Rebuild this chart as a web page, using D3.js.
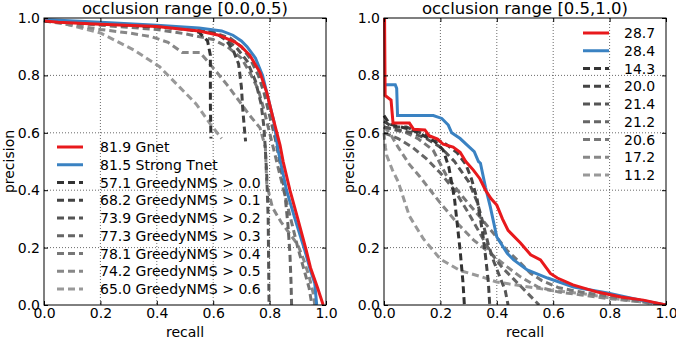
<!DOCTYPE html>
<html>
<head>
<meta charset="utf-8">
<script src="https://cdn.jsdelivr.net/npm/d3@7"></script>
<style>
body { margin: 0; background: #fff; }
</style>
</head>
<body>
<svg id="chart" width="676" height="339"></svg>
<script>
// occlusion range [0.0,0.5) : [recall, precision]
var gnetLow = [[0,0.99],[0.05,0.985],[0.2,0.978],[0.4,0.97],[0.55,0.955],[0.62,0.94],[0.677,0.916],[0.7,0.9],[0.73,0.87],[0.766,0.81],[0.79,0.74],[0.81,0.66],[0.837,0.557],[0.848,0.5],[0.872,0.4],[0.9,0.3],[0.93,0.19],[0.945,0.13],[0.97,0.06],[0.99,0]];
var tnetLow = [[0,0.995],[0.2,0.985],[0.4,0.975],[0.55,0.965],[0.63,0.955],[0.67,0.94],[0.7,0.92],[0.72,0.9],[0.75,0.86],[0.775,0.8],[0.795,0.72],[0.815,0.64],[0.83,0.54],[0.86,0.4],[0.89,0.3],[0.925,0.19],[0.945,0.12],[0.96,0.077],[0.967,0]];
var nmsLow0 = [[0,0.99],[0.2,0.98],[0.4,0.97],[0.5,0.965],[0.55,0.95],[0.58,0.92],[0.59,0.87],[0.59,0.7],[0.592,0.58]];
var nmsLow1 = [[0,0.99],[0.2,0.98],[0.4,0.97],[0.55,0.96],[0.6,0.95],[0.64,0.93],[0.67,0.89],[0.69,0.84],[0.7,0.76],[0.705,0.68],[0.712,0.6],[0.715,0.57]];
var nmsLow2 = [[0,0.99],[0.2,0.98],[0.4,0.97],[0.55,0.96],[0.62,0.94],[0.68,0.9],[0.72,0.85],[0.75,0.78],[0.77,0.7],[0.78,0.62],[0.785,0.54],[0.79,0.45],[0.795,0.3],[0.797,0.1],[0.798,0]];
var nmsLow3 = [[0,0.99],[0.2,0.98],[0.4,0.97],[0.6,0.95],[0.66,0.93],[0.7,0.9],[0.73,0.86],[0.76,0.8],[0.78,0.74],[0.8,0.66],[0.82,0.58],[0.84,0.48],[0.855,0.38],[0.865,0.28],[0.872,0.18],[0.876,0.08],[0.878,0]];
var nmsLow4 = [[0,0.99],[0.2,0.975],[0.4,0.96],[0.5,0.945],[0.6,0.925],[0.65,0.9],[0.7,0.86],[0.73,0.81],[0.76,0.75],[0.78,0.68],[0.8,0.6],[0.82,0.52],[0.84,0.44],[0.86,0.36],[0.88,0.28],[0.9,0.2],[0.92,0.13],[0.94,0.06],[0.95,0]];
var nmsLow5 = [[0,0.99],[0.1,0.975],[0.2,0.96],[0.3,0.948],[0.38,0.935],[0.44,0.915],[0.49,0.88],[0.553,0.88],[0.6,0.826],[0.65,0.766],[0.695,0.707],[0.73,0.66],[0.766,0.617],[0.785,0.55],[0.79,0.42],[0.81,0.34],[0.84,0.29],[0.87,0.25],[0.9,0.21],[0.92,0.16],[0.94,0.1],[0.955,0.04],[0.96,0]];
var nmsLow6 = [[0,0.99],[0.06,0.983],[0.2,0.948],[0.32,0.888],[0.41,0.83],[0.48,0.76],[0.54,0.7],[0.59,0.63],[0.63,0.58]];

// occlusion range [0.5,1.0)
var gnetHigh = [[0.002,1.0],[0.004,0.73],[0.025,0.714],[0.032,0.634],[0.09,0.634],[0.105,0.612],[0.145,0.61],[0.16,0.59],[0.19,0.578],[0.21,0.56],[0.245,0.55],[0.27,0.532],[0.29,0.5],[0.317,0.47],[0.34,0.44],[0.36,0.4],[0.38,0.37],[0.4,0.348],[0.42,0.3],[0.44,0.26],[0.484,0.216],[0.52,0.175],[0.555,0.157],[0.59,0.11],[0.615,0.094],[0.67,0.07],[0.757,0.045],[0.84,0.028],[0.92,0.017],[1.0,0]];
var tnetHigh = [[0.002,0.767],[0.04,0.767],[0.045,0.755],[0.048,0.66],[0.175,0.66],[0.205,0.65],[0.228,0.627],[0.24,0.6],[0.27,0.58],[0.295,0.557],[0.32,0.534],[0.335,0.5],[0.342,0.494],[0.36,0.41],[0.377,0.342],[0.4,0.237],[0.437,0.18],[0.46,0.157],[0.508,0.122],[0.58,0.094],[0.672,0.063],[0.793,0.042],[0.91,0.017],[1.0,0]];
var nmsHigh0 = [[0,0.66],[0.02,0.63],[0.06,0.62],[0.1,0.61],[0.14,0.59],[0.18,0.57],[0.21,0.54],[0.23,0.48],[0.25,0.37],[0.26,0.28],[0.27,0.19],[0.28,0.08],[0.285,0]];
var nmsHigh1 = [[0,0.64],[0.03,0.62],[0.08,0.62],[0.13,0.6],[0.18,0.58],[0.22,0.56],[0.26,0.53],[0.29,0.49],[0.31,0.44],[0.33,0.37],[0.35,0.25],[0.36,0.17],[0.37,0.08],[0.375,0]];
var nmsHigh2 = [[0,0.62],[0.05,0.61],[0.1,0.6],[0.15,0.58],[0.2,0.55],[0.25,0.5],[0.3,0.43],[0.33,0.36],[0.35,0.29],[0.37,0.21],[0.39,0.15],[0.41,0.1],[0.43,0.05],[0.44,0]];
var nmsHigh3 = [[0,0.6],[0.05,0.58],[0.1,0.55],[0.15,0.51],[0.2,0.46],[0.25,0.4],[0.3,0.32],[0.34,0.25],[0.38,0.18],[0.42,0.13],[0.46,0.09],[0.5,0.05],[0.53,0.02],[0.55,0]];
var nmsHigh4 = [[0,0.62],[0.04,0.61],[0.08,0.6],[0.12,0.58],[0.174,0.54],[0.224,0.446],[0.28,0.376],[0.34,0.307],[0.388,0.25],[0.437,0.19],[0.484,0.146],[0.52,0.11],[0.56,0.085],[0.62,0.06],[0.7,0.045],[0.8,0.03],[0.9,0.015],[1.0,0]];
var nmsHigh5 = [[0,0.62],[0.02,0.6],[0.05,0.55],[0.09,0.49],[0.128,0.446],[0.2,0.355],[0.26,0.285],[0.317,0.227],[0.377,0.18],[0.437,0.133],[0.484,0.098],[0.545,0.063],[0.62,0.045],[0.7,0.035],[0.8,0.022],[0.9,0.012],[1.0,0]];
var nmsHigh6 = [[0,0.6],[0.005,0.55],[0.01,0.52],[0.03,0.47],[0.05,0.43],[0.09,0.31],[0.14,0.23],[0.2,0.16],[0.27,0.12],[0.34,0.1],[0.4,0.08],[0.5,0.065],[0.6,0.05],[0.7,0.04],[0.8,0.025],[0.9,0.012],[1.0,0]];

var labelsLow = ["81.9 Gnet", "81.5 Strong Tnet", "57.1 GreedyNMS > 0.0", "68.2 GreedyNMS > 0.1", "73.9 GreedyNMS > 0.2", "77.3 GreedyNMS > 0.3", "78.1 GreedyNMS > 0.4", "74.2 GreedyNMS > 0.5", "65.0 GreedyNMS > 0.6"];
var labelsHigh = ["28.7", "28.4", "14.3", "20.0", "21.4", "21.2", "20.6", "17.2", "11.2"];
var titles = ["occlusion range [0.0,0.5)", "occlusion range [0.5,1.0)"];
var ticks = [0, 0.2, 0.4, 0.6, 0.8, 1.0];

var colors = ["#e8191c", "#3a82c2", "#333333", "#444444", "#555555", "#666666", "#777777", "#888888", "#999999"];
var font = "DejaVu Sans";

var svg = d3.select("#chart");

var drawPanel = function(left, curves, labels, title, legendX, legendY, legendTextX, clipId) {
	var width = 282, height = 287, top = 18;
	var g = svg.append("g").attr("transform", "translate(" + left + "," + top + ")");

	var x = d3.scaleLinear().domain([0, 1]).range([0, width]);
	var y = d3.scaleLinear().domain([0, 1]).range([height, 0]);

	// grid
	g.append("g").selectAll("line").data(ticks.slice(1, 5)).enter().append("line")
		.attr("x1", function (d) { return x(d); }).attr("x2", function (d) { return x(d); })
		.attr("y1", 0).attr("y2", height)
		.attr("stroke", "#444").attr("stroke-width", 0.8).attr("stroke-dasharray", "1,2");
	g.append("g").selectAll("line").data(ticks.slice(1, 5)).enter().append("line")
		.attr("y1", function (d) { return y(d); }).attr("y2", function (d) { return y(d); })
		.attr("x1", 0).attr("x2", width)
		.attr("stroke", "#444").attr("stroke-width", 0.8).attr("stroke-dasharray", "1,2");

	svg.append("clipPath").attr("id", clipId).append("rect")
		.attr("x", -2).attr("y", -2).attr("width", width + 4).attr("height", height + 2);

	var line = d3.line()
		.x(function (d) { return x(d[0]); })
		.y(function (d) { return y(d[1]); });

	var order = [8, 7, 6, 5, 4, 3, 2, 1, 0];
	var cg = g.append("g").attr("clip-path", "url(#" + clipId + ")");
	order.forEach(function (i) {
		cg.append("path")
			.datum(curves[i])
			.attr("d", line)
			.attr("fill", "none")
			.attr("stroke", colors[i])
			.attr("stroke-width", 3)
			.attr("stroke-dasharray", i < 2 ? null : "7,4");
	});

	// axes, ticks inside on all four sides
	var fmt = d3.format(".1f");
	g.append("g").attr("transform", "translate(0," + height + ")")
		.call(d3.axisBottom(x).tickValues(ticks).tickFormat(fmt).tickSizeInner(-4).tickSizeOuter(0).tickPadding(3));
	g.append("g")
		.call(d3.axisLeft(y).tickValues(ticks).tickFormat(fmt).tickSizeInner(-4).tickSizeOuter(0).tickPadding(4));
	g.append("g").call(d3.axisTop(x).tickValues(ticks).tickFormat("").tickSizeInner(-4).tickSizeOuter(0));
	g.append("g").attr("transform", "translate(" + width + ",0)")
		.call(d3.axisRight(y).tickValues(ticks).tickFormat("").tickSizeInner(-4).tickSizeOuter(0));
	g.selectAll(".domain").remove();
	g.selectAll(".tick line").attr("stroke", "#000");
	g.selectAll(".tick text").attr("font-size", "14px").style("font-family", font).attr("fill", "#000");

	g.append("rect").attr("width", width).attr("height", height)
		.attr("fill", "none").attr("stroke", "#000").attr("stroke-width", 1);

	g.append("text")
		.attr("text-anchor", "middle")
		.attr("x", width / 2).attr("y", -4)
		.attr("font-size", "16.5px")
		.style("font-family", font)
		.text(title);

	g.append("text")
		.attr("text-anchor", "middle")
		.attr("x", width / 2).attr("y", height + 32)
		.attr("font-size", "14px")
		.style("font-family", font)
		.text("recall");

	g.append("text")
		.attr("text-anchor", "middle")
		.attr("transform", "translate(-30," + (height / 2) + ") rotate(-90)")
		.attr("font-size", "14px")
		.style("font-family", font)
		.text("precision");

	// legend
	var lg = svg.append("g");
	labels.forEach(function (t, i) {
		var yy = legendY + i * 17.75;
		lg.append("line")
			.attr("x1", legendX).attr("x2", legendX + 26)
			.attr("y1", yy).attr("y2", yy)
			.attr("stroke", colors[i]).attr("stroke-width", 3)
			.attr("stroke-dasharray", i < 2 ? null : "7,4");
		lg.append("text")
			.attr("x", legendTextX).attr("y", yy).attr("dy", "0.36em")
			.attr("font-size", "14px")
			.style("font-family", font)
			.text(t);
	});
};

drawPanel(44, [gnetLow, tnetLow, nmsLow0, nmsLow1, nmsLow2, nmsLow3, nmsLow4, nmsLow5, nmsLow6],
	labelsLow, titles[0], 57, 147, 100, "clipLow");
drawPanel(384, [gnetHigh, tnetHigh, nmsHigh0, nmsHigh1, nmsHigh2, nmsHigh3, nmsHigh4, nmsHigh5, nmsHigh6],
	labelsHigh, titles[1], 583, 33, 624, "clipHigh");
</script>
</body>
</html>
